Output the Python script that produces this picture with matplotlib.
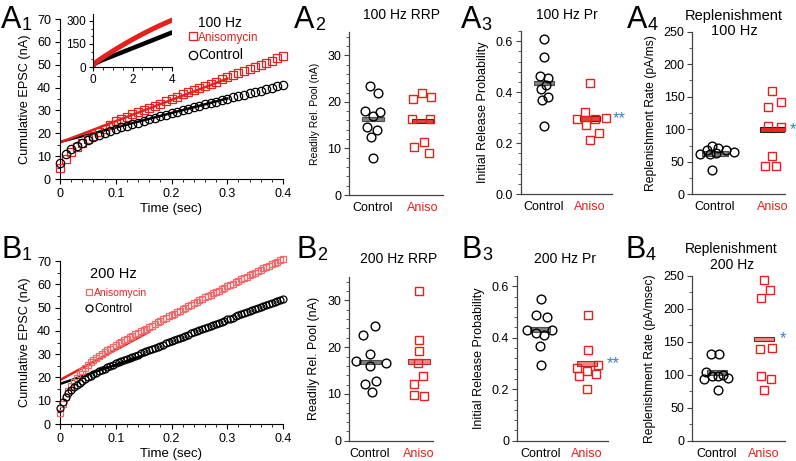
import matplotlib.pyplot as plt
import numpy as np
from matplotlib.lines import Line2D
from matplotlib.ticker import MultipleLocator

plt.rcParams['font.family'] = ['Liberation Sans', 'DejaVu Sans']

W, H = 796, 461
RED = '#e5211d'
PINK = '#ee6a6a'
BLUE = '#3b7fc4'

# ---------------- data ----------------
t100 = np.arange(41) / 100      # stimulus times at 100 Hz (s)
t200 = np.arange(81) / 200      # stimulus times at 200 Hz (s)
t_long = np.arange(41) / 10     # inset, 4 s train (sampled every 10th pulse)

a1_ctrl = [7.0, 11.0, 13.0, 14.6, 15.9, 17.1, 18.2, 19.2, 20.1, 21.0, 21.9,
           22.6, 23.3, 24.0, 24.7, 25.4, 26.1, 26.8, 27.5, 28.2, 28.9,
           29.5, 30.2, 30.8, 31.5, 32.1, 32.7, 33.3, 33.9, 34.5, 35.1,
           35.7, 36.3, 36.9, 37.5, 38.1, 38.7, 39.3, 39.9, 40.5, 41.1]
a1_aniso = [4.6, 8.6, 11.6, 13.8, 15.8, 17.5, 19.0, 20.5, 22.0, 23.8, 25.3,
            26.3, 27.3, 28.3, 29.3, 30.3, 31.2, 32.1, 33.0, 34.0, 35.0,
            36.0, 37.0, 37.9, 38.8, 39.8, 40.7, 41.7, 42.6, 43.6, 44.5,
            45.4, 46.3, 47.2, 48.2, 49.1, 50.0, 50.9, 51.8, 52.8, 53.8]
a1_fit_t = [0, 0.3]
a1_fit_ctrl = [16.2, 35.2]
a1_fit_aniso = [16.0, 43.9]

inset_ctrl = [7.0, 21.9, 28.9, 35.1, 41.1, 46.2, 51.3, 56.4, 61.5, 66.6, 71.7,
              76.8, 81.9, 87.0, 92.1, 97.2, 102.3, 107.4, 112.5, 117.6, 122.7,
              127.8, 132.9, 138.0, 143.1, 148.2, 153.3, 158.4, 163.5, 168.6, 173.7,
              178.8, 183.9, 189.0, 194.1, 199.2, 204.3, 209.4, 214.5, 219.6, 224.7]
inset_aniso = [4.6, 25.3, 35.0, 44.5, 53.8, 62.3, 70.7, 79.0, 87.2, 95.4, 103.5,
               111.5, 119.4, 127.2, 134.9, 142.5, 150.0, 157.5, 164.9, 172.2, 179.4,
               186.5, 193.5, 200.4, 207.2, 214.0, 220.7, 227.3, 233.8, 240.2, 246.5,
               252.7, 258.8, 264.9, 270.9, 276.8, 282.6, 288.3, 293.9, 299.4, 304.9]

b1_ctrl = [7.0, 9.6, 11.6, 13.3, 14.7, 15.9, 16.9, 17.8, 18.6, 19.3, 20.0,
           20.7, 21.4, 22.0, 22.6, 23.2, 23.8, 24.4, 25.0, 25.5, 26.0,
           26.5, 27.0, 27.5, 27.9, 28.4, 28.9, 29.4, 29.8, 30.3, 30.8,
           31.3, 31.8, 32.2, 32.7, 33.2, 33.7, 34.1, 34.6, 35.1, 35.6,
           36.1, 36.5, 37.0, 37.5, 38.0, 38.4, 38.9, 39.4, 39.9, 40.4,
           40.8, 41.3, 41.7, 42.2, 42.6, 43.1, 43.5, 44.0, 44.4, 44.9,
           45.3, 45.7, 46.2, 46.6, 47.1, 47.5, 48.0, 48.4, 48.9, 49.3,
           49.8, 50.2, 50.6, 51.1, 51.5, 52.0, 52.4, 52.9, 53.3, 53.7]
b1_aniso = [4.8, 8.8, 11.6, 14.0, 16.2, 18.2, 19.9, 21.4, 22.8, 24.2, 25.5,
            26.5, 27.4, 28.3, 29.2, 30.0, 30.8, 31.6, 32.4, 33.2, 34.0,
            34.6, 35.3, 35.9, 36.6, 37.2, 37.8, 38.5, 39.1, 39.8, 40.4,
            41.0, 41.7, 42.3, 43.0, 43.6, 44.2, 44.9, 45.5, 46.2, 46.8,
            47.4, 48.1, 48.7, 49.4, 50.0, 50.6, 51.3, 51.9, 52.6, 53.2,
            53.8, 54.4, 55.0, 55.6, 56.2, 56.7, 57.3, 57.9, 58.5, 59.1,
            59.7, 60.3, 60.9, 61.5, 62.1, 62.6, 63.2, 63.8, 64.4, 65.0,
            65.6, 66.2, 66.8, 67.4, 68.0, 68.5, 69.1, 69.7, 70.3, 70.9]
b1_fit_t_ctrl = [0, 0.15]
b1_fit_ctrl = [17.2, 29.5]
b1_fit_t_aniso = [0, 0.16]
b1_fit_aniso = [18.9, 39.6]

groups = ['Control', 'Aniso']

# RRP (nA)
a2_ctrl = [23.4, 21.8, 18.0, 17.8, 16.9, 14.6, 13.9, 12.5, 8.0]
a2_aniso = [20.6, 21.9, 21.1, 16.3, 16.3, 10.2, 11.4, 9.1]
a2_means = [16.3, 15.9]
b2_ctrl = [22.7, 24.5, 17.1, 18.6, 16.0, 16.7, 12.2, 12.7, 10.5]
b2_aniso = [31.9, 21.5, 19.2, 16.7, 13.8, 12.1, 9.8, 9.5]
b2_means = [16.8, 16.9]
# initial release probability
a3_ctrl = [0.609, 0.538, 0.462, 0.454, 0.43, 0.414, 0.381, 0.368, 0.267]
a3_aniso = [0.436, 0.323, 0.295, 0.273, 0.212, 0.297, 0.299, 0.24]
a3_means = [0.437, 0.297]
b3_ctrl = [0.549, 0.49, 0.479, 0.432, 0.432, 0.417, 0.41, 0.367, 0.294]
b3_aniso = [0.49, 0.352, 0.283, 0.27, 0.252, 0.2, 0.294, 0.259]
b3_means = [0.432, 0.30]
# replenishment rate
a4_ctrl = [62, 68, 74.8, 70.7, 68.6, 64.5, 61.5, 63.5, 36.9]
a4_aniso = [159.3, 141.4, 133.7, 105.5, 103.5, 58.4, 43.5, 43.5]
a4_means = [62.5, 99.4]
b4_ctrl = [131, 132, 94.1, 104.8, 98.7, 98.7, 100.2, 94.6, 77.4]
b4_aniso = [243.4, 228.2, 217.1, 139.2, 140.2, 98.2, 94.1, 76.4]
b4_means = [103.7, 154.4]

# horizontal scatter of the dots around each group
a2_jit = ([-0.07, 0.11, -0.17, 0.15, 0.0, -0.12, 0.09, -0.05, 0.0],
          [-0.19, -0.02, 0.18, -0.21, 0.16, -0.17, 0.04, 0.14])
b2_jit = ([-0.14, 0.1, -0.29, 0.0, -0.01, 0.32, -0.1, 0.12, 0.03],
          [0.0, 0.0, 0.0, -0.03, 0.08, -0.1, -0.1, 0.1])
a3_jit = ([0.01, 0.01, -0.09, 0.09, 0.04, -0.07, 0.09, -0.05, 0.0],
          [-0.01, -0.1, -0.29, -0.09, -0.01, 0.11, 0.35, 0.2])
b3_jit = ([0.02, -0.09, 0.14, -0.27, 0.26, -0.09, 0.09, 0.0, 0.01],
          [0.01, 0.01, -0.21, 0.0, -0.17, 0.0, 0.24, 0.19])
a4_jit = ([-0.26, -0.14, -0.05, 0.06, 0.19, 0.33, -0.09, 0.02, -0.05],
          [-0.02, 0.14, -0.09, -0.08, 0.14, -0.02, -0.13, 0.06])
b4_jit = ([-0.13, 0.05, -0.28, -0.23, -0.11, 0.01, 0.13, 0.24, 0.03],
          [0.01, 0.13, -0.06, -0.09, 0.17, -0.07, 0.14, 0.0])


def rect(l, t, r, b):
    return [l / W, 1 - b / H, (r - l) / W, (b - t) / H]


def fxy(x, y):
    return x / W, 1 - y / H


fig = plt.figure(figsize=(W / 100, H / 100), dpi=100)


def panel_label(letter, num, x, ybase):
    fig.text(*fxy(x, ybase), letter, fontsize=22, va='baseline', ha='left')
    fig.text(*fxy(x + 21, ybase + 2.5), num, fontsize=13, va='baseline', ha='left')


def cumulative(r, t, ctrl, aniso, fit_tc, fit_c, fit_ta, fit_a, sq_col, ms):
    ax = fig.add_axes(rect(*r))
    ax.set_xlim(0, 0.4)
    ax.set_ylim(0, 70)
    for s in ['top', 'right']:
        ax.spines[s].set_visible(False)
    ax.plot(fit_tc, fit_c, color='k', lw=1.8, zorder=2)
    ax.plot(fit_ta, fit_a, color=RED, lw=1.8, zorder=2)
    ax.plot(t, aniso, ls='none', marker='s', ms=ms, mfc='none', mec=sq_col,
            mew=0.9, clip_on=False, zorder=3)
    ax.plot(t, ctrl, ls='none', marker='o', ms=ms, mfc='none', mec='k',
            mew=0.9, clip_on=False, zorder=4)
    ax.set_xticks([0, 0.1, 0.2, 0.3, 0.4], ['0', '0.1', '0.2', '0.3', '0.4'])
    ax.set_yticks(range(0, 71, 10))
    ax.xaxis.set_minor_locator(MultipleLocator(0.02))
    ax.yaxis.set_minor_locator(MultipleLocator(5))
    ax.tick_params(labelsize=9, length=3.5, width=0.8, pad=3)
    ax.tick_params(which='minor', length=2, width=0.6)
    ax.set_xlabel('Time (sec)', fontsize=9.5, labelpad=2)
    ax.set_ylabel('Cumulative EPSC (nA)', fontsize=9.2, labelpad=4)
    return ax


# ---------- A1 ----------
ax = cumulative((60, 19, 283, 179), t100, a1_ctrl, a1_aniso, a1_fit_t, a1_fit_ctrl,
                a1_fit_t, a1_fit_aniso, RED, 6)
ax.text(0.62, 0.975, '100 Hz', transform=ax.transAxes, fontsize=10, va='center')
h = [Line2D([], [], ls='none', marker='s', ms=6, mfc='none', mec=RED, mew=0.9),
     Line2D([], [], ls='none', marker='o', ms=6, mfc='none', mec='k', mew=0.9)]
leg = ax.legend(h, ['Anisomycin', 'Control'], loc='upper left',
                bbox_to_anchor=(0.55, 0.96), frameon=False, borderpad=0,
                handlelength=0.6, handletextpad=0.15, labelspacing=0.35, fontsize=9)
leg.get_texts()[0].set_color(RED)
leg.get_texts()[0].set_fontsize(8.5)
leg.get_texts()[1].set_fontsize(10)

ins = fig.add_axes(rect(93, 14, 172, 67))
ins.set_xlim(0, 4)
ins.set_ylim(0, 345)
for s in ['top', 'right']:
    ins.spines[s].set_visible(False)
ins.plot(t_long, inset_ctrl, color='k', lw=3.2, solid_capstyle='round')
ins.plot(t_long, inset_aniso, color=RED, lw=3.6, solid_capstyle='round')
ins.set_xticks([0, 2, 4])
ins.set_yticks([0, 150, 300])
ins.xaxis.set_minor_locator(MultipleLocator(0.5))
ins.yaxis.set_minor_locator(MultipleLocator(50))
ins.tick_params(labelsize=8.5, length=3, width=0.8, pad=2)
ins.tick_params(which='minor', length=1.8, width=0.6)

# ---------- B1 ----------
ax = cumulative((60, 261, 283, 424), t200, b1_ctrl, b1_aniso, b1_fit_t_ctrl, b1_fit_ctrl,
                b1_fit_t_aniso, b1_fit_aniso, PINK, 5)
ax.text(0.135, 0.92, '200 Hz', transform=ax.transAxes, fontsize=10.5, va='center')
h = [Line2D([], [], ls='none', marker='s', ms=5, mfc='none', mec=PINK, mew=0.9),
     Line2D([], [], ls='none', marker='o', ms=5, mfc='none', mec='k', mew=0.9)]
leg = ax.legend(h, ['Anisomycin', 'Control'], loc='upper left',
                bbox_to_anchor=(0.09, 0.868), frameon=False, borderpad=0,
                handlelength=0.55, handletextpad=0.2, labelspacing=0.45, fontsize=8)
leg.get_texts()[0].set_color(RED)
leg.get_texts()[0].set_fontsize(7.5)
leg.get_texts()[1].set_fontsize(8.5)


# ---------- scatter panels ----------
def scatter(r, xlim, ytop, ctrl, aniso, jit, means, bar_col, bar_edge, ylabel, ylsize,
            yticks, yticklabels, minor, title, title_xy, title_size=10, star=None,
            star_x=None):
    ax = fig.add_axes(rect(*r))
    ax.set_xlim(*xlim)
    ax.set_ylim(0, ytop)
    for s in ['top', 'right']:
        ax.spines[s].set_visible(False)
    for s in ['left', 'bottom']:
        ax.spines[s].set_color('#444444')
        ax.spines[s].set_linewidth(0.9)
    hpx = r[3] - r[1]
    bh = 4.5 / hpx * ytop
    ax.bar([0, 1], [bh, bh], bottom=[m - bh / 2 for m in means], width=0.44,
           color=['#7f7f7f', bar_col], edgecolor=['#4d4d4d', bar_edge], lw=0.8, zorder=2)
    ax.plot(np.array(jit[0]), ctrl, ls='none', marker='o', ms=6.3, mfc='none', mec='k',
            mew=1.0, clip_on=False, zorder=3)
    ax.plot(1 + np.array(jit[1]), aniso, ls='none', marker='s', ms=5.8, mfc='none',
            mec=RED, mew=1.0, clip_on=False, zorder=3)
    ax.set_xticks([0, 1], groups)
    ax.get_xticklabels()[1].set_color(RED)
    ax.set_yticks(yticks, yticklabels)
    ax.yaxis.set_minor_locator(MultipleLocator(minor))
    ax.tick_params(axis='x', length=0, labelsize=9, pad=5)
    ax.tick_params(axis='y', labelsize=9, length=3.5, width=0.8, pad=2, color='#444444')
    ax.tick_params(axis='y', which='minor', length=2, width=0.6, color='#444444')
    ax.set_ylabel(ylabel, fontsize=ylsize, labelpad=5)
    fig.text(*fxy(*title_xy), title, fontsize=title_size, ha='center', va='center',
             linespacing=1.15)
    if star:
        ax.text(star_x, means[1], star, color=BLUE, fontsize=12, ha='left',
                va='center', clip_on=False)
    return ax


SALMON = '#f08585'
scatter((349, 32, 443, 195), (-0.485, 1.414), 35, a2_ctrl, a2_aniso, a2_jit, a2_means,
        '#e8413c', '#7a1212', 'Readily Rel. Pool (nA)', 7.5, [0, 10, 20, 30],
        ['0', '10', '20', '30'], 2, '100 Hz RRP', (401, 15))
scatter((521, 31, 612, 194.3), (-0.5, 1.478), 0.64, a3_ctrl, a3_aniso, a3_jit, a3_means,
        '#e8413c', '#7a1212', 'Initial Release Probability', 9, [0, 0.2, 0.4, 0.6],
        ['0.0', '0.2', '0.4', '0.6'], 0.04, '100 Hz Pr', (567, 15), star='**', star_x=1.5)
scatter((692.3, 31.7, 785, 194.3), (-0.39, 1.207), 250, a4_ctrl, a4_aniso, a4_jit,
        a4_means, '#ee2a2a', '#222222', 'Replenishment Rate (pA/ms)', 8.7,
        [0, 50, 100, 150, 200, 250], ['0', '50', '100', '150', '200', '250'], 25,
        'Replenishment\n100 Hz', (734, 23.5), title_size=10.5, star='*', star_x=1.28)
scatter((349, 277, 433, 440.7), (-0.43, 1.286), 35, b2_ctrl, b2_aniso, b2_jit, b2_means,
        SALMON, '#b02a2a', 'Readily Rel. Pool (nA)', 9, [0, 10, 20, 30],
        ['0', '10', '20', '30'], 2, '200 Hz RRP', (399, 259))
scatter((516.7, 276, 608, 440.7), (-0.5, 1.447), 0.64, b3_ctrl, b3_aniso, b3_jit, b3_means,
        SALMON, '#b02a2a', 'Initial Release Probability', 9, [0, 0.2, 0.4, 0.6],
        ['0', '0.2', '0.4', '0.6'], 0.04, '200 Hz Pr', (565, 259), star='**', star_x=1.42)
scatter((691.7, 276, 785, 440.7), (-0.54, 1.447), 250, b4_ctrl, b4_aniso, b4_jit,
        b4_means, SALMON, '#902020', 'Replenishment Rate (pA/msec)', 8.7,
        [0, 50, 100, 150, 200, 250], ['0', '50', '100', '150', '200', '250'], 25,
        'Replenishment\n200 Hz', (731.7, 257), title_size=10, star='*', star_x=1.33)

panel_label('A', '1', 1, 28)
panel_label('A', '2', 294, 28)
panel_label('A', '3', 460.5, 28)
panel_label('A', '4', 626.5, 28)
panel_label('B', '1', 1, 258)
panel_label('B', '2', 296.5, 258)
panel_label('B', '3', 461.5, 258)
panel_label('B', '4', 625, 258)

fig.savefig('out.png', dpi=100)
